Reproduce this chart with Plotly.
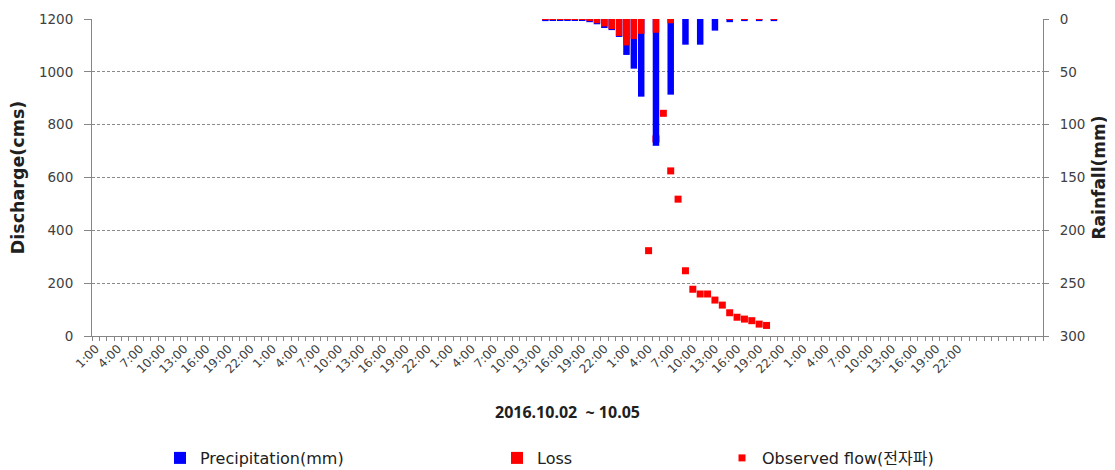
import plotly.graph_objects as go

# ---- data ----
# hourly categories starting 2016-10-02 01:00 (index = hours since start)
n_cat = 129
hour_labels = [f"{(1 + k) % 24}:00" for k in range(120)] + [""] * (n_cat - 120)

rain_hour = [61, 62, 63, 64, 65, 66, 67, 68, 69, 70, 71, 72, 73, 74, 76, 78, 80, 82, 84, 86, 88, 90, 92]
precip_mm = [2, 1, 1.5, 1.5, 1.5, 1.5, 3, 5, 8.5, 10.5, 17, 34, 47, 73.5, 120, 71.6, 24.3, 24.3, 11, 3, 2, 2, 2]
loss_mm   = [0.7, 0.4, 0.6, 0.6, 0.6, 0.6, 2, 4, 7, 9.5, 16, 25, 19, 14, 13, 4, 0, 0, 0, 0.7, 0.5, 0.5, 0.5]

flow_hour = [75, 76, 77, 78, 79, 80, 81, 82, 83, 84, 85, 86, 87, 88, 89, 90, 91]
observed_cms = [323, 746, 843, 625, 518, 247, 177, 159, 159, 136, 117, 88, 71, 64, 58, 45, 40]

left_ticks = [0, 200, 400, 600, 800, 1000, 1200]
right_ticks = [0, 50, 100, 150, 200, 250, 300]

label_pos = list(range(0, 120, 3))
label_txt = [hour_labels[i] for i in label_pos]

FONT = "DejaVu Sans, Noto Sans CJK KR, sans-serif"
TFONT = "Noto Sans, Noto Sans CJK KR, sans-serif"
TXT = "#404040"
AX = "#868686"

# the page body has an 8px margin, so the figure is drawn 8px in from the corner.
# plot area on screen: x 92..1043, y 19..336
def px_x(p):
    return (p - 92) / 951.0

LEG_Y = (336 - 458) / 317.0

fig = go.Figure()
fig.add_trace(go.Bar(x=rain_hour, y=precip_mm, name="Precipitation(mm)", yaxis="y2",
                     marker=dict(color="#0000FF", line=dict(width=0)), width=0.88, legend="legend"))
fig.add_trace(go.Bar(x=rain_hour, y=loss_mm, name="Loss", yaxis="y2",
                     marker=dict(color="#FF0000", line=dict(width=0)), width=0.88, legend="legend2"))
fig.add_trace(go.Scatter(x=flow_hour, y=observed_cms, name="Observed flow(전자파)", mode="markers",
                         marker=dict(symbol="square", size=7, color="#FF0000", line=dict(width=0)),
                         legend="legend3"))

legend_common = dict(y=LEG_Y, yanchor="middle", xanchor="left", orientation="h",
                     font=dict(family=FONT, size=16, color="#202020"),
                     bgcolor="rgba(0,0,0,0)", borderwidth=0)

fig.update_layout(
    width=1107, height=462,
    margin=dict(l=84, r=72, t=11, b=134, autoexpand=False),
    paper_bgcolor="white", plot_bgcolor="white",
    barmode="overlay",
    font=dict(family=FONT, size=12, color=TXT),
    showlegend=True,
    legend=dict(x=px_x(160), **legend_common),
    legend2=dict(x=px_x(497), **legend_common),
    legend3=dict(x=px_x(722), **legend_common),
    xaxis=dict(range=[-0.5, n_cat - 0.5], tickmode="array", tickvals=label_pos, ticktext=label_txt,
               tickangle=-45, ticks="", showline=True, linecolor=AX, linewidth=1,
               showgrid=False, zeroline=False, tickfont=dict(family=FONT, size=12, color=TXT),
               automargin=False,
               minor=dict(tick0=-0.5, dtick=1, ticks="outside", ticklen=4, tickcolor=AX, showgrid=False),
               title=dict(text="<b>2016.10.02  ~ 10.05</b>", font=dict(family=TFONT, size=16, color="#202020"),
                          standoff=31)),
    yaxis=dict(range=[0, 1200], tickvals=left_ticks, showline=True, linecolor=AX, linewidth=1,
               ticks="outside", ticklen=7, tickcolor=AX, ticklabelstandoff=8, automargin=False,
               showgrid=True, gridcolor="#8a8a8a", griddash="3px,2px", gridwidth=1, zeroline=False,
               tickfont=dict(family=FONT, size=13.5, color=TXT),
               title=dict(text="<b>Discharge(cms)</b>", font=dict(family=FONT, size=17.5, color="#202020"),
                          standoff=9)),
    yaxis2=dict(range=[300, 0], tickvals=right_ticks, overlaying="y", side="right",
                showline=True, linecolor=AX, linewidth=1, ticks="outside", ticklen=5, tickcolor=AX,
                ticklabelstandoff=8, automargin=False,
                showgrid=False, zeroline=False, tickfont=dict(family=FONT, size=13.5, color=TXT),
                title=dict(text="<b>Rainfall(mm)</b>", font=dict(family=FONT, size=17, color="#202020"),
                           standoff=8)),
)

fig.write_html("out.html")
